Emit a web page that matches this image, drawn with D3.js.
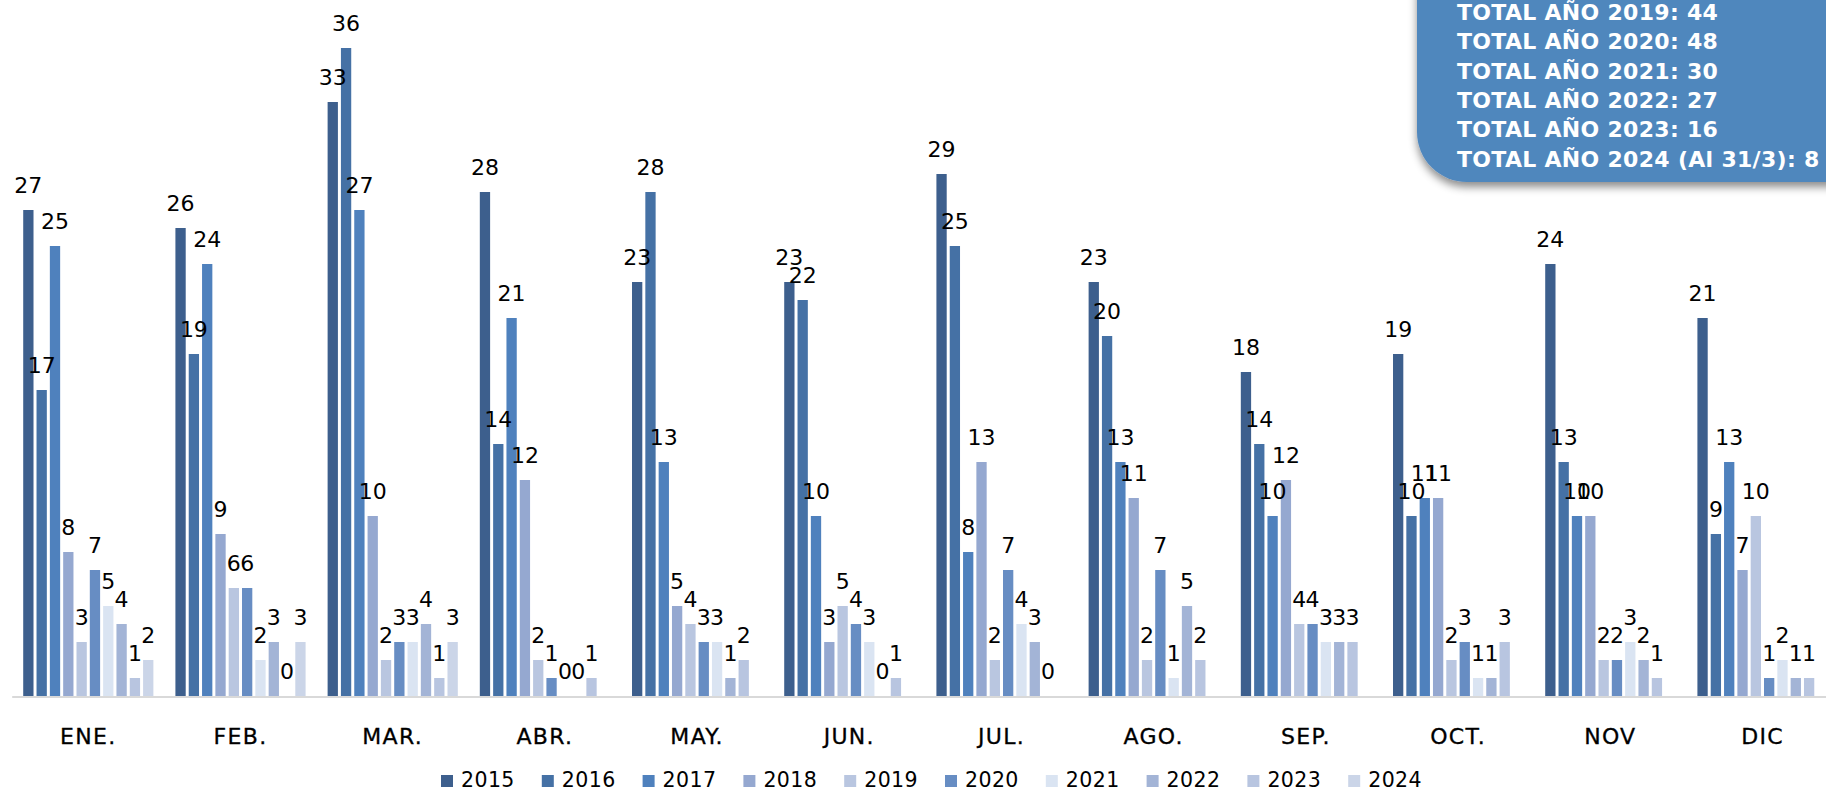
<!DOCTYPE html>
<html>
<head>
<meta charset="utf-8">
<script src="https://cdnjs.cloudflare.com/ajax/libs/d3/7.8.5/d3.min.js"></script>
<style>
	html, body { margin: 0; padding: 0; background: #fff; }
	svg { display: block; font-family: "DejaVu Sans", sans-serif; }
</style>
</head>
<body>
<div id="chart"></div>
<script>
var	months	= ["ENE.", "FEB.", "MAR.", "ABR.", "MAY.", "JUN.", "JUL.", "AGO.", "SEP.", "OCT.", "NOV", "DIC"];
var	years	= ["2015", "2016", "2017", "2018", "2019", "2020", "2021", "2022", "2023", "2024"];
var	colors	= ["#3d5f8d", "#4571a5", "#4f81bd", "#95a8d0", "#b9c6e0", "#678dc3", "#dae4f2", "#a3b4d6", "#b8c5e0", "#cbd5e8"];
// one array per year, month order; null = no data yet
var	v2015	= [27, 26, 33, 28, 23, 23, 29, 23, 18, 19, 24, 21];
var	v2016	= [17, 19, 36, 14, 28, 22, 25, 20, 14, 10, 13, 9];
var	v2017	= [25, 24, 27, 21, 13, 10, 8, 13, 10, 11, 10, 13];
var	v2018	= [8, 9, 10, 12, 5, 3, 13, 11, 12, 11, 10, 7];
var	v2019	= [3, 6, 2, 2, 4, 5, 2, 2, 4, 2, 2, 10];
var	v2020	= [7, 6, 3, 1, 3, 4, 7, 7, 4, 3, 2, 1];
var	v2021	= [5, 2, 3, 0, 3, 3, 4, 1, 3, 1, 3, 2];
var	v2022	= [4, 3, 4, 0, 1, 0, 3, 5, 3, 1, 2, 1];
var	v2023	= [1, 0, 1, 1, 2, 1, 0, 2, 3, 3, 1, 1];
var	v2024	= [2, 3, 3, null, null, null, null, null, null, null, null, null];
var	totalYears	= ["2019", "2020", "2021", "2022", "2023", "2024"];
var	totalNames	= ["TOTAL AÑO 2019", "TOTAL AÑO 2020", "TOTAL AÑO 2021", "TOTAL AÑO 2022", "TOTAL AÑO 2023", "TOTAL AÑO 2024 (Al 31/3)"];

var	series	= [v2015, v2016, v2017, v2018, v2019, v2020, v2021, v2022, v2023, v2024];
var	W	= 1826, H = 792,
	step	= 152.2,
	x0	= d3.scaleBand().domain(months).range([12.2, 12.2 + step * months.length]),
	x1	= d3.scaleBand().domain(years).range([9.5, step - 9.5]).paddingInner(0.227).paddingOuter(0.1135),
	y	= d3.scaleLinear().domain([0, 36]).range([696, 48]);

var	cells	= [];
months.forEach(function(m, i) {
	years.forEach(function(yr, j) {
		var v = series[j][i];
		if (v !== null) cells.push({month: m, year: yr, value: v, color: colors[j]});
	});
});

var	svg	= d3.select("#chart").append("svg").attr("width", W).attr("height", H);
var	defs	= svg.append("defs");
defs.append("filter").attr("id", "shadow").attr("x", "-20%").attr("y", "-20%").attr("width", "140%").attr("height", "150%")
	.append("feDropShadow").attr("dx", 0).attr("dy", 5).attr("stdDeviation", 4)
	.attr("flood-color", "#000").attr("flood-opacity", 0.45);

// axis line
svg.append("line").attr("x1", x0.range()[0]).attr("x2", W).attr("y1", y(0) + 1).attr("y2", y(0) + 1)
	.attr("stroke", "#d9d9d9").attr("stroke-width", 2);

var	g	= svg.append("g");
g.selectAll("rect.bar").data(cells).enter().append("rect").attr("class", "bar")
	.attr("x", function(d) { return x0(d.month) + x1(d.year); })
	.attr("y", function(d) { return y(d.value); })
	.attr("width", x1.bandwidth())
	.attr("height", function(d) { return y(0) - y(d.value); })
	.attr("fill", function(d) { return d.color; });

g.selectAll("text.lbl").data(cells).enter().append("text").attr("class", "lbl")
	.attr("x", function(d) { return x0(d.month) + x1(d.year) + x1.bandwidth() / 2; })
	.attr("y", function(d) { return y(d.value) - 17; })
	.attr("text-anchor", "middle").attr("font-size", 22).attr("fill", "#000")
	.text(function(d) { return d.value; });

// month labels
svg.selectAll("text.cat").data(months).enter().append("text").attr("class", "cat")
	.attr("x", function(d) { return x0(d) + step / 2; })
	.attr("y", 744)
	.attr("text-anchor", "middle").attr("font-size", 22).attr("letter-spacing", 1.3).attr("fill", "#000")
	.attr("stroke", "#000").attr("stroke-width", 0.3)
	.text(function(d) { return d; });

// legend
var	lg	= svg.selectAll("g.leg").data(years).enter().append("g").attr("class", "leg")
	.attr("transform", function(d, i) { return "translate(" + (441 + i * 100.8) + ",0)"; });
lg.append("rect").attr("x", 0).attr("y", 775).attr("width", 12).attr("height", 12)
	.attr("fill", function(d, i) { return colors[i]; });
lg.append("text").attr("x", 20).attr("y", 787).attr("font-size", 20.5).attr("letter-spacing", 0.4).attr("fill", "#000")
	.text(function(d) { return d; });

// totals box
var	box	= svg.append("g");
box.append("rect").attr("x", 1417).attr("y", -120).attr("width", 520).attr("height", 302).attr("rx", 50)
	.attr("fill", "#5087bd").attr("filter", "url(#shadow)");
box.selectAll("text").data(totalYears).enter().append("text")
	.attr("x", 1457).attr("y", function(d, i) { return 20 + i * 29.3; })
	.attr("font-size", 22).attr("font-weight", "bold").attr("letter-spacing", 0.3).attr("fill", "#fff")
	.text(function(d, i) {
		var j = years.indexOf(d);
		return totalNames[i] + ": " + d3.sum(series[j]);
	});
</script>
</body>
</html>
